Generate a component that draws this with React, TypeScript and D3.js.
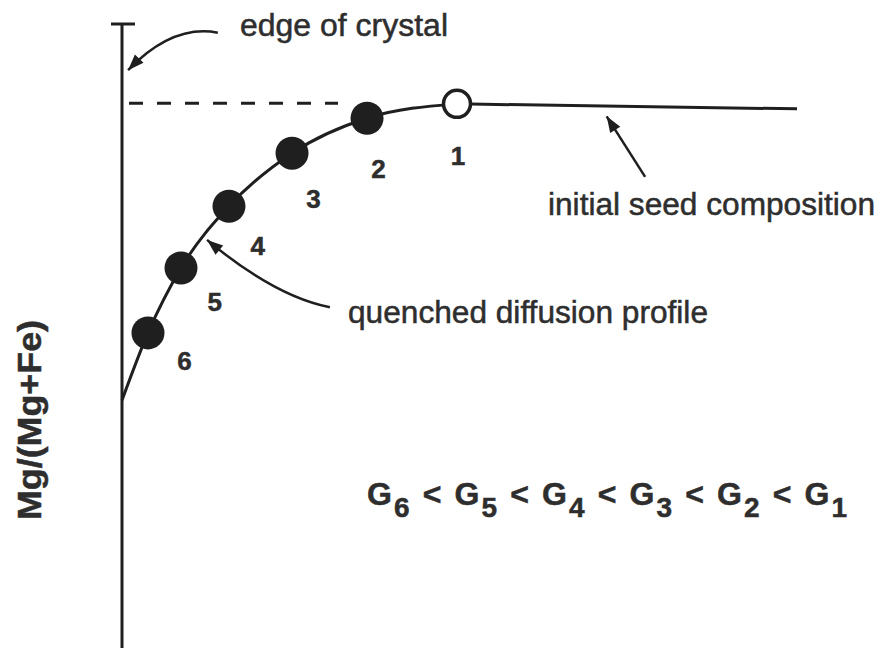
import React from "react";
import * as d3 from "d3";

const W = 883;
const H = 651;

// profile: crystal edge followed by grains 6..1 (distance from edge, Mg/(Mg+Fe))
const profileDistance = [0, 3.85, 8.74, 15.85, 25.19, 36.3, 49.63];
const profileMgNumber = [0.397, 0.505, 0.609, 0.708, 0.793, 0.849, 0.872];
const grainLabels = ["6", "5", "4", "3", "2", "1"];
// initial seed composition plateau
const seedDistance = [49.63, 100];
const seedMgNumber = [0.872, 0.864];
// dashed reference level
const levelDistance = [0, 32];
const levelMgNumber = 0.873;
const formulaIndices = ["6", "5", "4", "3", "2", "1"];
const yLabel = "Mg/(Mg+Fe)";

const FONT = "'Liberation Sans', Arial, Helvetica, sans-serif";
const INK = "#1f1f1f";
const TEXT = "#2e2e2e";

function arrowHead(tip: [number, number], from: [number, number], len = 16, half = 6) {
  const dx = tip[0] - from[0];
  const dy = tip[1] - from[1];
  const n = Math.hypot(dx, dy);
  const ux = dx / n, uy = dy / n;
  const bx = tip[0] - ux * len, by = tip[1] - uy * len;
  return `M${tip[0]},${tip[1]}L${bx - uy * half},${by + ux * half}L${bx + uy * half},${by - ux * half}Z`;
}

export default function App() {
  const x = d3.scaleLinear().domain([0, 100]).range([122, 797]);
  const y = d3.scaleLinear().domain([0, 1]).range([648, 24]);

  const pts: [number, number][] = profileDistance.map((d, i) => [x(d), y(profileMgNumber[i])]);
  const profilePath = d3.line().curve(d3.curveMonotoneX)(pts) || "";
  const seedPts: [number, number][] = seedDistance.map((d, i) => [x(d), y(seedMgNumber[i])]);
  const seedPath = d3.line()(seedPts) || "";
  const levelPath = d3.line()(levelDistance.map((d) => [x(d), y(levelMgNumber)] as [number, number])) || "";

  const grains = grainLabels.map((lab, k) => {
    const i = k + 1;
    const p = pts[i];
    const prev = pts[i - 1];
    const next = i + 1 < pts.length ? pts[i + 1] : seedPts[1];
    const tx = next[0] - prev[0], ty = next[1] - prev[1];
    const tn = Math.hypot(tx, ty);
    const nx = -ty / tn, ny = tx / tn;
    return { lab, p, lx: p[0] + nx * 40, ly: p[1] + ny * 40 + 12 + 9, open: lab === "1" };
  });

  // annotation arrows (in data units)
  const edgeTail: [number, number] = [x(14.2), y(0.986)];
  const edgeCtrl: [number, number] = [x(7.5), y(1.0)];
  const edgeTip: [number, number] = [x(0.9), y(0.926)];
  const qTail: [number, number] = [x(30.8), y(0.546)];
  const qCtrl: [number, number] = [x(22.7), y(0.563)];
  const qTip: [number, number] = [x(12.6), y(0.654)];
  const sTail: [number, number] = [x(77.5), y(0.755)];
  const sTip: [number, number] = [x(71.8), y(0.852)];

  const yTop = y(1);
  const yBottom = y(0);
  const heavy = { stroke: TEXT, strokeWidth: 0.5 };

  return (
    <svg width={W} height={H} style={{ position: "absolute", left: 0, top: 0, background: "#fff" }}>
      <rect width={W} height={H} fill="#fff" />
      {/* axis */}
      <line x1={x(0)} x2={x(0)} y1={yTop} y2={yBottom} stroke={INK} strokeWidth={3} />
      <line x1={x(0) - 11} x2={x(0) + 13} y1={yTop} y2={yTop} stroke={INK} strokeWidth={3} />
      {/* dashed level */}
      <path d={levelPath} stroke={INK} strokeWidth={3} strokeDasharray="14 14" strokeDashoffset={21} fill="none" />
      {/* profile curve */}
      <path d={profilePath} stroke={INK} strokeWidth={3} fill="none" />
      <path d={seedPath} stroke={INK} strokeWidth={3} fill="none" />
      {/* grains */}
      {grains.map((g) => (
        <g key={g.lab}>
          {g.open ? (
            <circle cx={g.p[0]} cy={g.p[1]} r={13.5} fill="#fff" stroke={INK} strokeWidth={3.5} />
          ) : (
            <circle cx={g.p[0]} cy={g.p[1]} r={16.5} fill={INK} />
          )}
          <text x={g.lx} y={g.ly} textAnchor="middle" fontFamily={FONT} fontWeight="bold" fontSize={26} fill={TEXT} {...heavy}>
            {g.lab}
          </text>
        </g>
      ))}
      {/* arrows */}
      <path d={`M${edgeTail[0]},${edgeTail[1]}Q${edgeCtrl[0]},${edgeCtrl[1]} ${edgeTip[0]},${edgeTip[1]}`} stroke={INK} strokeWidth={2.5} fill="none" />
      <path d={arrowHead(edgeTip, edgeCtrl)} fill={INK} />
      <path d={`M${qTail[0]},${qTail[1]}Q${qCtrl[0]},${qCtrl[1]} ${qTip[0]},${qTip[1]}`} stroke={INK} strokeWidth={2.5} fill="none" />
      <path d={arrowHead(qTip, qCtrl)} fill={INK} />
      <line x1={sTail[0]} y1={sTail[1]} x2={sTip[0]} y2={sTip[1]} stroke={INK} strokeWidth={2.5} />
      <path d={arrowHead(sTip, sTail)} fill={INK} />
      {/* annotation texts */}
      <text x={240} y={36} fontFamily={FONT} fontSize={31} fill={TEXT} {...heavy} textLength={208} lengthAdjust="spacingAndGlyphs">
        edge of crystal
      </text>
      <text x={348} y={323} fontFamily={FONT} fontSize={31} fill={TEXT} {...heavy} textLength={360} lengthAdjust="spacingAndGlyphs">
        quenched diffusion profile
      </text>
      <text x={548} y={215} fontFamily={FONT} fontSize={31} fill={TEXT} {...heavy} textLength={327} lengthAdjust="spacingAndGlyphs">
        initial seed composition
      </text>
      {/* formula */}
      <text x={367} y={505} fontFamily={FONT} fontWeight="bold" fontSize={32} fill={TEXT} {...heavy} textLength={480} lengthAdjust="spacing" style={{ whiteSpace: "pre" }}>
        {formulaIndices.map((k, i) => (
          <React.Fragment key={k}>
            <tspan>G</tspan>
            <tspan dy={12} fontSize={28}>{k}</tspan>
            <tspan dy={-12}>{i < formulaIndices.length - 1 ? " < " : ""}</tspan>
          </React.Fragment>
        ))}
      </text>
      {/* y label */}
      <text transform="translate(41,420) rotate(-90)" textAnchor="middle" fontFamily={FONT} fontWeight="bold" fontSize={34} fill={TEXT} {...heavy} textLength={200} lengthAdjust="spacingAndGlyphs">
        {yLabel}
      </text>
    </svg>
  );
}
